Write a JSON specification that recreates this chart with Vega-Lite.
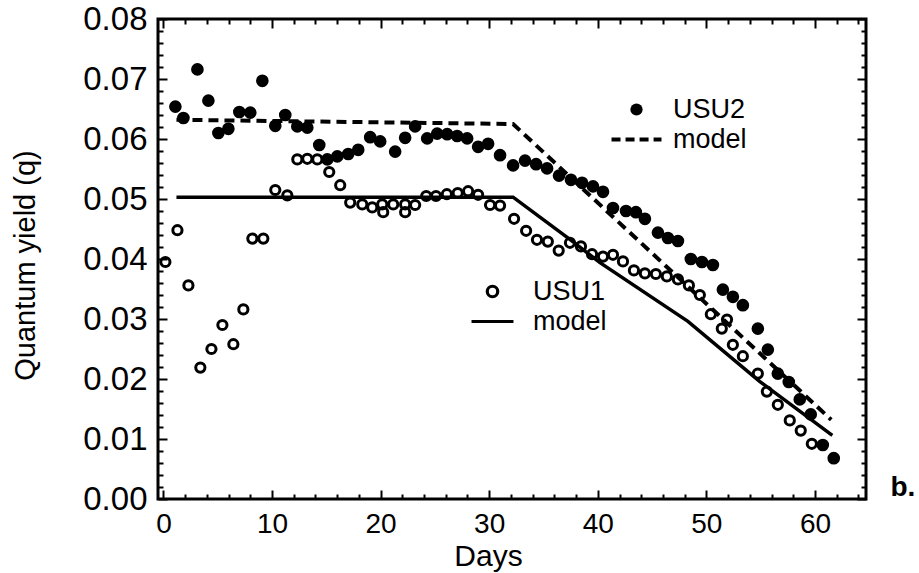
{
  "$schema": "https://vega.github.io/schema/vega-lite/v6.json",
  "width": 708,
  "height": 480,
  "autosize": "none",
  "padding": {"left": 158, "top": 19, "right": 53, "bottom": 74},
  "background": "white",
  "config": {"view": {"stroke": "black", "strokeWidth": 3}, "font": "Liberation Sans"},
  "datasets": {
    "points": [
      {"series": "USU2", "day": 1.1, "q": 0.0654}, {"series": "USU2", "day": 1.84, "q": 0.0635}, {"series": "USU2", "day": 3.13, "q": 0.0716},
      {"series": "USU2", "day": 4.14, "q": 0.0664}, {"series": "USU2", "day": 5.06, "q": 0.061}, {"series": "USU2", "day": 5.98, "q": 0.0617},
      {"series": "USU2", "day": 6.99, "q": 0.0645}, {"series": "USU2", "day": 8.0, "q": 0.0644}, {"series": "USU2", "day": 9.11, "q": 0.0697},
      {"series": "USU2", "day": 10.3, "q": 0.0622}, {"series": "USU2", "day": 11.22, "q": 0.064}, {"series": "USU2", "day": 12.33, "q": 0.0621},
      {"series": "USU2", "day": 13.25, "q": 0.0619}, {"series": "USU2", "day": 14.35, "q": 0.059}, {"series": "USU2", "day": 15.09, "q": 0.0566},
      {"series": "USU2", "day": 16.01, "q": 0.0571}, {"series": "USU2", "day": 17.02, "q": 0.0575}, {"series": "USU2", "day": 17.94, "q": 0.0582},
      {"series": "USU2", "day": 19.04, "q": 0.0603}, {"series": "USU2", "day": 19.96, "q": 0.0596}, {"series": "USU2", "day": 21.34, "q": 0.0579},
      {"series": "USU2", "day": 22.26, "q": 0.0602}, {"series": "USU2", "day": 23.18, "q": 0.0621}, {"series": "USU2", "day": 24.29, "q": 0.0601},
      {"series": "USU2", "day": 25.21, "q": 0.0609}, {"series": "USU2", "day": 26.13, "q": 0.0608}, {"series": "USU2", "day": 27.05, "q": 0.0605},
      {"series": "USU2", "day": 27.97, "q": 0.0601}, {"series": "USU2", "day": 28.98, "q": 0.0587}, {"series": "USU2", "day": 29.9, "q": 0.0592},
      {"series": "USU2", "day": 31.0, "q": 0.0573}, {"series": "USU2", "day": 32.2, "q": 0.0556}, {"series": "USU2", "day": 33.3, "q": 0.0564},
      {"series": "USU2", "day": 34.32, "q": 0.0558}, {"series": "USU2", "day": 35.33, "q": 0.0551}, {"series": "USU2", "day": 36.43, "q": 0.0539},
      {"series": "USU2", "day": 37.53, "q": 0.0532}, {"series": "USU2", "day": 38.55, "q": 0.0527}, {"series": "USU2", "day": 39.56, "q": 0.0521},
      {"series": "USU2", "day": 40.48, "q": 0.0512}, {"series": "USU2", "day": 41.4, "q": 0.0485}, {"series": "USU2", "day": 42.6, "q": 0.048},
      {"series": "USU2", "day": 43.51, "q": 0.0478}, {"series": "USU2", "day": 44.34, "q": 0.0467}, {"series": "USU2", "day": 45.54, "q": 0.0444},
      {"series": "USU2", "day": 46.46, "q": 0.0435}, {"series": "USU2", "day": 47.38, "q": 0.043}, {"series": "USU2", "day": 48.57, "q": 0.04},
      {"series": "USU2", "day": 49.59, "q": 0.0395}, {"series": "USU2", "day": 50.6, "q": 0.039}, {"series": "USU2", "day": 51.52, "q": 0.0349},
      {"series": "USU2", "day": 52.44, "q": 0.0337}, {"series": "USU2", "day": 53.36, "q": 0.0323}, {"series": "USU2", "day": 54.74, "q": 0.0284},
      {"series": "USU2", "day": 55.66, "q": 0.0249}, {"series": "USU2", "day": 56.58, "q": 0.0209}, {"series": "USU2", "day": 57.59, "q": 0.0195},
      {"series": "USU2", "day": 58.6, "q": 0.0166}, {"series": "USU2", "day": 59.61, "q": 0.0141}, {"series": "USU2", "day": 60.72, "q": 0.009},
      {"series": "USU2", "day": 61.73, "q": 0.0068},
      {"series": "USU1", "day": 0.18, "q": 0.0395}, {"series": "USU1", "day": 1.29, "q": 0.0448}, {"series": "USU1", "day": 2.3, "q": 0.0356},
      {"series": "USU1", "day": 3.4, "q": 0.0219}, {"series": "USU1", "day": 4.42, "q": 0.025}, {"series": "USU1", "day": 5.43, "q": 0.029},
      {"series": "USU1", "day": 6.44, "q": 0.0258}, {"series": "USU1", "day": 7.36, "q": 0.0316}, {"series": "USU1", "day": 8.19, "q": 0.0434},
      {"series": "USU1", "day": 9.2, "q": 0.0434}, {"series": "USU1", "day": 10.3, "q": 0.0515}, {"series": "USU1", "day": 11.41, "q": 0.0506},
      {"series": "USU1", "day": 12.33, "q": 0.0566}, {"series": "USU1", "day": 13.25, "q": 0.0567}, {"series": "USU1", "day": 14.17, "q": 0.0566},
      {"series": "USU1", "day": 15.27, "q": 0.0545}, {"series": "USU1", "day": 16.28, "q": 0.0523}, {"series": "USU1", "day": 17.2, "q": 0.0494},
      {"series": "USU1", "day": 18.31, "q": 0.0491}, {"series": "USU1", "day": 19.23, "q": 0.0486}, {"series": "USU1", "day": 20.15, "q": 0.0491},
      {"series": "USU1", "day": 20.24, "q": 0.0478}, {"series": "USU1", "day": 21.16, "q": 0.0491}, {"series": "USU1", "day": 22.26, "q": 0.0491},
      {"series": "USU1", "day": 22.26, "q": 0.0478}, {"series": "USU1", "day": 23.18, "q": 0.049}, {"series": "USU1", "day": 24.2, "q": 0.0505},
      {"series": "USU1", "day": 25.1, "q": 0.0505}, {"series": "USU1", "day": 26.1, "q": 0.0508}, {"series": "USU1", "day": 27.1, "q": 0.051},
      {"series": "USU1", "day": 28.06, "q": 0.0513}, {"series": "USU1", "day": 28.98, "q": 0.0507}, {"series": "USU1", "day": 30.08, "q": 0.049},
      {"series": "USU1", "day": 31.0, "q": 0.0489}, {"series": "USU1", "day": 32.29, "q": 0.0467}, {"series": "USU1", "day": 33.4, "q": 0.0447},
      {"series": "USU1", "day": 34.4, "q": 0.0432}, {"series": "USU1", "day": 35.4, "q": 0.0429}, {"series": "USU1", "day": 36.4, "q": 0.0414},
      {"series": "USU1", "day": 37.44, "q": 0.0427}, {"series": "USU1", "day": 38.45, "q": 0.0421}, {"series": "USU1", "day": 39.47, "q": 0.0408},
      {"series": "USU1", "day": 40.48, "q": 0.0404}, {"series": "USU1", "day": 41.4, "q": 0.0407}, {"series": "USU1", "day": 42.32, "q": 0.0396},
      {"series": "USU1", "day": 43.33, "q": 0.0381}, {"series": "USU1", "day": 44.34, "q": 0.0376}, {"series": "USU1", "day": 45.35, "q": 0.0375},
      {"series": "USU1", "day": 46.36, "q": 0.0371}, {"series": "USU1", "day": 47.38, "q": 0.0366}, {"series": "USU1", "day": 48.39, "q": 0.0356},
      {"series": "USU1", "day": 49.4, "q": 0.034}, {"series": "USU1", "day": 50.41, "q": 0.0308}, {"series": "USU1", "day": 51.42, "q": 0.0284},
      {"series": "USU1", "day": 51.9, "q": 0.0299}, {"series": "USU1", "day": 52.44, "q": 0.0257}, {"series": "USU1", "day": 53.36, "q": 0.0238},
      {"series": "USU1", "day": 54.74, "q": 0.0209}, {"series": "USU1", "day": 55.57, "q": 0.0179}, {"series": "USU1", "day": 56.58, "q": 0.0157},
      {"series": "USU1", "day": 57.68, "q": 0.0131}, {"series": "USU1", "day": 58.69, "q": 0.0114}, {"series": "USU1", "day": 59.71, "q": 0.0092}
    ],
    "models": [
      {"model": "USU1", "day": 1.2, "q": 0.0503}, {"model": "USU1", "day": 32.2, "q": 0.0503}, {"model": "USU1", "day": 37.4, "q": 0.0433},
      {"model": "USU1", "day": 40.2, "q": 0.0394}, {"model": "USU1", "day": 48.3, "q": 0.0296}, {"model": "USU1", "day": 54.9, "q": 0.0196},
      {"model": "USU1", "day": 61.6, "q": 0.0106},
      {"model": "USU2", "day": 1.2, "q": 0.0632}, {"model": "USU2", "day": 32.2, "q": 0.0625}, {"model": "USU2", "day": 61.5, "q": 0.0132}
    ]
  },
  "layer": [
    {
      "data": {"name": "models"},
      "transform": [{"filter": "datum.model === 'USU1'"}],
      "mark": {"type": "line", "color": "black", "strokeWidth": 3.5},
      "encoding": {
        "x": {"field": "day", "type": "quantitative", "scale": {"domain": [-0.5, 64.7], "nice": false, "zero": false},
          "axis": {"orient": "bottom", "domain": false, "grid": false,
            "values": [0,2,4,6,8,10,12,14,16,18,20,22,24,26,28,30,32,34,36,38,40,42,44,46,48,50,52,54,56,58,60,62,64],
            "tickColor": "black", "tickWidth": 2,
            "tickSize": {"condition": {"test": "datum.value % 10 === 0", "value": -9}, "value": -5},
            "labelExpr": "datum.value % 10 === 0 ? datum.label : ''",
            "labelFontSize": 28, "labelColor": "black", "labelPadding": 20, "labelOverlap": false, "labelFlush": false, "labelBound": false,
            "title": "Days", "titleFontSize": 30, "titleFontWeight": "normal", "titleColor": "black", "titleX": 330, "titleY": 42}},
        "y": {"field": "q", "type": "quantitative", "scale": {"domain": [0, 0.08], "nice": false, "zero": true},
          "axis": {"orient": "left", "domain": false, "grid": false,
            "values": [0,0.002,0.004,0.006,0.008,0.01,0.012,0.014,0.016,0.018,0.02,0.022,0.024,0.026,0.028,0.03,0.032,0.034,0.036,0.038,0.04,0.042,0.044,0.046,0.048,0.05,0.052,0.054,0.056,0.058,0.06,0.062,0.064,0.066,0.068,0.07,0.072,0.074,0.076,0.078,0.08],
            "tickColor": "black", "tickWidth": 2,
            "tickSize": {"condition": {"test": "round(datum.value*1000) % 10 === 0", "value": -9}, "value": -5},
            "labelExpr": "round(datum.value*1000) % 10 === 0 ? format(datum.value, '.2f') : ''",
            "labelFontSize": 33, "labelColor": "black", "labelPadding": 20, "labelOverlap": false, "labelFlush": false, "labelBound": false,
            "title": "Quantum yield (q)", "titleFontSize": 29, "titleFontWeight": "normal", "titleColor": "black",
            "titleX": -133, "titleY": 246, "titleAngle": -90, "titleAlign": "center", "titleBaseline": "middle"}}
      }
    },
    {
      "data": {"name": "models"},
      "transform": [{"filter": "datum.model === 'USU2'"}],
      "mark": {"type": "line", "color": "black", "strokeWidth": 4, "strokeDash": [10, 6]},
      "encoding": {
        "x": {"field": "day", "type": "quantitative",
          "axis": {"orient": "top", "domain": false, "grid": false, "labels": false, "title": null,
            "values": [0,2,4,6,8,10,12,14,16,18,20,22,24,26,28,30,32,34,36,38,40,42,44,46,48,50,52,54,56,58,60,62,64],
            "tickColor": "black", "tickWidth": 2,
            "tickSize": {"condition": {"test": "datum.value % 10 === 0", "value": -9}, "value": -5}}},
        "y": {"field": "q", "type": "quantitative",
          "axis": {"orient": "right", "domain": false, "grid": false, "title": null,
            "values": [0,0.002,0.004,0.006,0.008,0.01,0.012,0.014,0.016,0.018,0.02,0.022,0.024,0.026,0.028,0.03,0.032,0.034,0.036,0.038,0.04,0.042,0.044,0.046,0.048,0.05,0.052,0.054,0.056,0.058,0.06,0.062,0.064,0.066,0.068,0.07,0.072,0.074,0.076,0.078,0.08],
            "tickColor": "black", "tickWidth": 2,
            "tickSize": {"condition": {"test": "round(datum.value*1000) % 10 === 0", "value": -9}, "value": -5},
            "labelExpr": "abs(datum.value - 0.002) < 0.0000001 ? 'b.' : ''",
            "labelFontSize": 28, "labelFontWeight": "bold", "labelColor": "black", "labelPadding": 29, "labelOverlap": false, "labelFlush": false, "labelBound": false}}
      }
    },
    {
      "data": {"name": "points"},
      "transform": [{"filter": "datum.series === 'USU1'"}],
      "mark": {"type": "point", "filled": false, "color": "black", "strokeWidth": 3, "size": 85, "opacity": 1},
      "encoding": {
        "x": {"field": "day", "type": "quantitative", "axis": null},
        "y": {"field": "q", "type": "quantitative", "axis": null},
        "shape": {"field": "series", "type": "nominal",
          "scale": {"domain": ["USU1", "model"], "range": ["circle", "M-4,0H4"]},
          "legend": {"title": null, "orient": "none", "legendX": 321, "legendY": 259, "symbolSize": 110,
            "symbolStrokeColor": "black", "symbolStrokeWidth": 3.2, "symbolFillColor": "transparent",
            "labelFontSize": 27, "labelColor": "black", "labelOffset": 27, "rowPadding": 2,
            "encode": {"symbols": {"update": {"opacity": {"value": 1}}}}}}
      }
    },
    {
      "data": {"name": "points"},
      "transform": [{"filter": "datum.series === 'USU2'"}],
      "mark": {"type": "point", "filled": true, "color": "black", "size": 160, "opacity": 1},
      "encoding": {
        "x": {"field": "day", "type": "quantitative", "axis": null},
        "y": {"field": "q", "type": "quantitative", "axis": null},
        "shape": {"field": "series", "type": "nominal",
          "scale": {"domain": ["USU2", "model"], "range": ["circle", "M-4.08,-0.33H-2.61V0.33H-4.08ZM-1.79,-0.33H-0.32V0.33H-1.79ZM0.5,-0.33H1.97V0.33H0.5ZM2.79,-0.33H4.08V0.33H2.79Z"]},
          "legend": {"title": null, "orient": "none", "legendX": 465, "legendY": 77, "symbolSize": 150,
            "symbolFillColor": "black",
            "labelFontSize": 27, "labelColor": "black", "labelOffset": 23, "rowPadding": 2,
            "encode": {"symbols": {"update": {"opacity": {"value": 1}, "fill": {"value": "black"}}}}}}
      }
    }
  ],
  "resolve": {"scale": {"shape": "independent"}, "axis": {"x": "independent", "y": "independent"}}
}
